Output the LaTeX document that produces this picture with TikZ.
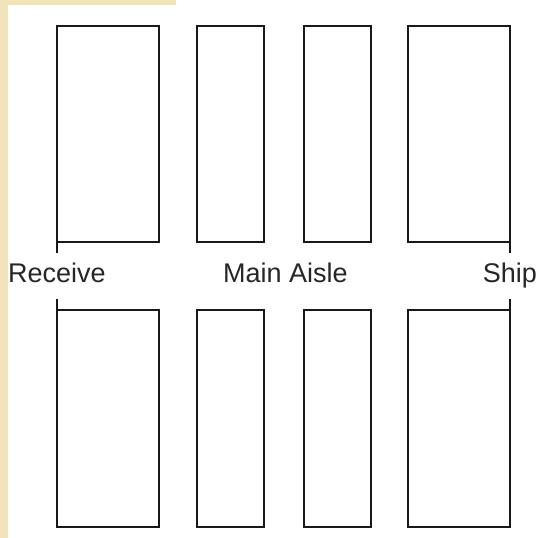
\documentclass[tikz,border=0pt]{standalone}
\usepackage{fontspec}
\setmainfont{Liberation Sans}
\definecolor{beige}{RGB}{242,228,186}
\begin{document}
\begin{tikzpicture}[x=1pt,y=-1pt,
  bay/.style={draw=black!90, line width=1.5pt, inner sep=0pt, outer sep=0pt, anchor=north west},
  tick/.style={draw=black!90, line width=1.5pt},
  lbl/.style={inner sep=0pt, anchor=base west, font=\fontsize{27}{30}\selectfont, text=black!85}]
\useasboundingbox (0,0) rectangle (537,538);
\fill[white] (0,0) rectangle (537,538);
\fill[beige] (0,0) rectangle (7.5,538);
\fill[beige] (0,0) rectangle (176,5);
% top row
\node[bay, minimum width=102pt, minimum height=216pt] (t1) at (57,26) {};
\node[bay, minimum width=67pt, minimum height=216pt] (t2) at (197,26) {};
\node[bay, minimum width=67pt, minimum height=216pt] (t3) at (304,26) {};
\node[bay, minimum width=102pt, minimum height=216pt] (t4) at (408,26) {};
% bottom row
\node[bay, minimum width=102pt, minimum height=217pt] (b1) at (57,310) {};
\node[bay, minimum width=67pt, minimum height=217pt] (b2) at (197,310) {};
\node[bay, minimum width=67pt, minimum height=217pt] (b3) at (304,310) {};
\node[bay, minimum width=102pt, minimum height=217pt] (b4) at (408,310) {};
% ticks
\coordinate (c1) at (57,253);
\coordinate (c2) at (57,299);
\coordinate (c3) at (510,253);
\coordinate (c4) at (510,299);
\draw[tick] (t1.south west) -- (c1);
\draw[tick] (b1.north west) -- (c2);
\draw[tick] (t4.south east) -- (c3);
\draw[tick] (b4.north east) -- (c4);
% labels
\node[lbl] (receive) at (8,282) {Receive};
\node[lbl] (aisle) at (223,282) {Main Aisle};
\node[lbl, anchor=base east] (ship) at (537,282) {Ship};
\end{tikzpicture}
\end{document}
